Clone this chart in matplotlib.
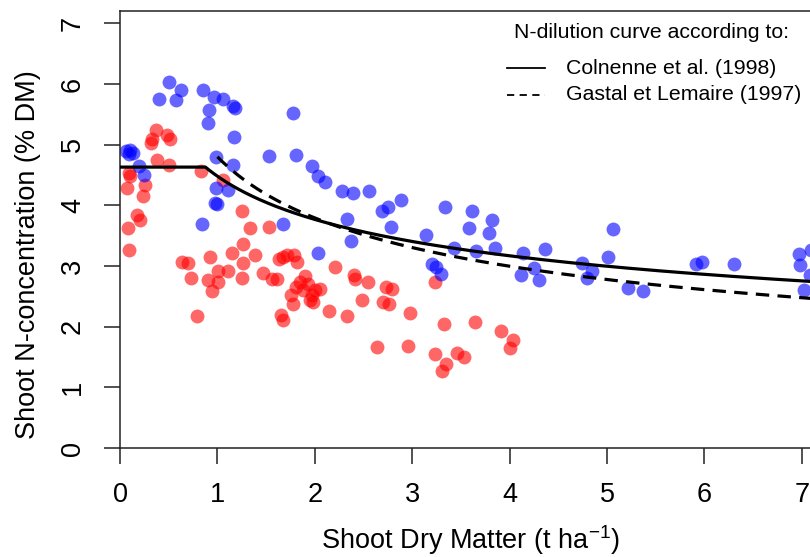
import numpy as np
import matplotlib
matplotlib.use("Agg")
import matplotlib.pyplot as plt
from matplotlib.lines import Line2D

plt.rcParams['font.family'] = ['Liberation Sans', 'DejaVu Sans']
plt.rcParams['mathtext.default'] = 'regular'

# ---- data ----
blue_x = [0.06, 0.10, 0.13, 0.09, 0.195, 0.25, 0.40, 0.506, 0.575, 0.626, 0.855, 0.90, 0.917,
          0.965, 1.054, 1.16, 1.18, 1.17, 0.99, 1.16, 0.986, 1.11, 0.975, 1.00, 0.84, 1.67,
          1.527, 1.78, 1.81, 1.97, 2.03, 2.10, 2.28, 2.39, 2.56, 2.69, 2.75, 2.89, 2.33, 2.37,
          2.78, 2.03, 3.14, 3.34, 3.61, 3.58, 3.82, 3.79, 3.43, 3.66, 3.85, 3.20, 3.24, 3.30,
          4.14, 4.36, 4.25, 4.12, 4.30, 5.06, 5.01, 4.74, 4.85, 4.79, 5.22, 5.37, 5.91, 5.98,
          6.30, 6.97, 6.98, 7.09, 7.08, 7.02]
blue_y = [4.90, 4.92, 4.86, 4.85, 4.64, 4.50, 5.75, 6.04, 5.74, 5.90, 5.90, 5.35, 5.57,
          5.78, 5.76, 5.63, 5.61, 5.13, 4.80, 4.66, 4.28, 4.25, 4.04, 4.02, 3.70, 3.70,
          4.82, 5.52, 4.83, 4.65, 4.48, 4.39, 4.24, 4.21, 4.24, 3.91, 3.97, 4.09, 3.78, 3.42,
          3.64, 3.21, 3.51, 3.98, 3.91, 3.62, 3.75, 3.54, 3.29, 3.25, 3.29, 3.04, 2.98, 2.87,
          3.22, 3.28, 2.97, 2.85, 2.77, 3.61, 3.14, 3.05, 2.92, 2.81, 2.63, 2.59, 3.03, 3.07,
          3.04, 3.20, 3.02, 3.27, 2.85, 2.60]

red_x = [0.37, 0.325, 0.318, 0.48, 0.51, 0.376, 0.50, 0.83, 0.092, 0.10, 0.068, 0.257, 0.24,
         1.06, 1.25, 0.17, 0.21, 0.079, 1.33, 1.53, 0.096, 0.64, 0.70, 0.924, 1.15, 1.26,
         1.39, 1.26, 1.63, 1.71, 1.79, 1.82, 1.67, 2.21, 1.01, 1.105, 0.725, 0.90, 1.01, 1.25,
         0.94, 1.47, 1.56, 1.61, 1.90, 1.85, 1.81, 1.93, 1.88, 2.00, 2.05, 1.76, 1.97, 1.78,
         1.95, 1.98, 2.15, 0.79, 1.65, 1.67, 2.40, 2.41, 2.55, 2.73, 2.79, 3.23, 2.48, 2.70,
         2.76, 2.33, 2.98, 3.33, 3.64, 3.91, 4.03, 4.00, 2.64, 2.96, 3.23, 3.46, 3.53, 3.35,
         3.31]
red_y = [5.24, 5.10, 5.03, 5.16, 5.09, 4.75, 4.66, 4.57, 4.53, 4.48, 4.28, 4.34, 4.15,
         4.42, 3.90, 3.84, 3.76, 3.62, 3.62, 3.65, 3.26, 3.07, 3.05, 3.15, 3.21, 3.36,
         3.18, 3.05, 3.12, 3.18, 3.18, 3.07, 3.14, 2.99, 2.92, 2.91, 2.80, 2.77, 2.74, 2.80,
         2.58, 2.88, 2.79, 2.78, 2.83, 2.74, 2.66, 2.71, 2.60, 2.60, 2.62, 2.52, 2.52, 2.38,
         2.44, 2.41, 2.26, 2.18, 2.19, 2.11, 2.85, 2.78, 2.73, 2.66, 2.62, 2.73, 2.44, 2.41,
         2.38, 2.18, 2.23, 2.04, 2.07, 1.93, 1.78, 1.65, 1.66, 1.68, 1.55, 1.56, 1.50, 1.38,
         1.27]

x_ticks = [0, 1, 2, 3, 4, 5, 6, 7]
y_ticks = [0, 1, 2, 3, 4, 5, 6, 7]

# N-dilution curve parameters
colnenne_a, colnenne_b, colnenne_wmin, colnenne_nmax = 4.48, 0.25, 0.88, 4.63
gastal_a, gastal_b, gastal_wmin = 4.8, 0.34, 1.0

legend_title = "N-dilution curve according to:"
legend_labels = ["Colnenne et al. (1998)", "Gastal et Lemaire (1997)"]

# ---- figure ----
W, H = 810, 557
fig = plt.figure(figsize=(W / 100, H / 100), dpi=100)
x0, y0, ytop = 120, 448, 11
px_per_x = 97.4
xmax = 7.4
ymax = (y0 - ytop) / 60.67
ax = fig.add_axes([x0 / W, (H - y0) / H, xmax * px_per_x / W, (y0 - ytop) / H])
ax.set_xlim(0, xmax)
ax.set_ylim(0, ymax)

ax.scatter(red_x, red_y, s=100, color=(1, 0, 0, 0.6), linewidths=0, zorder=2)
ax.scatter(blue_x, blue_y, s=100, color=(0, 0, 1, 0.6), linewidths=0, zorder=2)

wc = np.linspace(0, xmax, 600)
nc = np.where(wc < colnenne_wmin, colnenne_nmax,
              colnenne_a * np.maximum(wc, colnenne_wmin) ** (-colnenne_b))
ax.plot(wc, nc, color='black', lw=2.3, zorder=3, solid_capstyle='butt')
wg = np.linspace(gastal_wmin, xmax, 600)
ax.plot(wg, gastal_a * wg ** (-gastal_b), color='black', lw=2.3,
        linestyle=(0, (4.2, 2.6)), zorder=3)

for s in ['left', 'bottom', 'top', 'right']:
    ax.spines[s].set_linewidth(1.1)
    ax.spines[s].set_color('#222222')
ax.set_xticks(x_ticks)
ax.set_yticks(y_ticks)
ax.tick_params(length=11.5, width=1.1, color='#222222', labelsize=19.5, direction='out')
ax.tick_params(axis='x', pad=13.3)
ax.tick_params(axis='y', pad=13)
for lab in ax.get_yticklabels():
    lab.set_rotation(90)
    lab.set_va('center')

ax.set_xlabel("Shoot Dry Matter (t ha$^{-1}$)", fontsize=19.5)
ax.set_ylabel("Shoot N-concentration (% DM)", fontsize=19.5)
ax.xaxis.set_label_coords((470 - x0) / (xmax * px_per_x), -(540 - y0) / (y0 - ytop))
ax.xaxis.label.set_va('center')
ax.yaxis.set_label_coords(-(x0 - 28) / (xmax * px_per_x), (y0 - 255) / (y0 - ytop))
ax.yaxis.label.set_va('center')


def fx(px):
    return px / W


def fy(py):
    return 1 - py / H


fig.text(fx(651), fy(33), legend_title, fontsize=15.3, ha='center', va='center')
row_y = [68, 95]
styles = ['-', (0, (4, 3))]
for yy, lab, st in zip(row_y, legend_labels, styles):
    fig.add_artist(Line2D([fx(507), fx(545)], [fy(yy), fy(yy)], color='black', lw=1.3,
                          linestyle=st, transform=fig.transFigure))
    fig.text(fx(566), fy(yy), lab, fontsize=15.3, ha='left', va='center')

fig.savefig("out.png", dpi=100)
